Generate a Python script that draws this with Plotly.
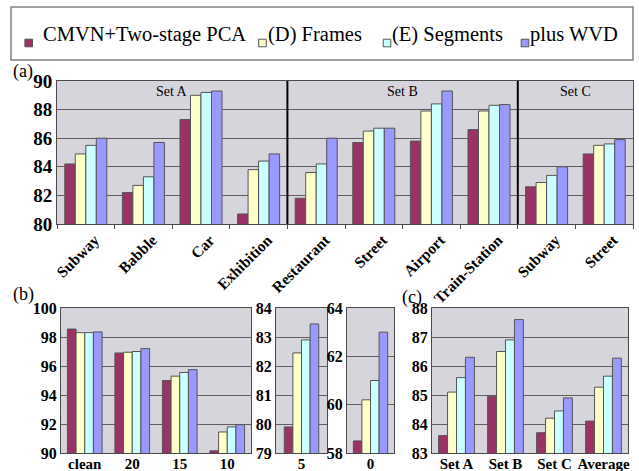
import plotly.graph_objects as go

# ---- data -------------------------------------------------------------
series_names = ["CMVN+Two-stage PCA", "(D) Frames", "(E) Segments", "plus WVD"]
series_colors = ["#993366", "#FFFFCC", "#CCFFFF", "#9999FF"]

# (a) accuracy per noise type (Set A: 4, Set B: 4, Set C: 2)
noise_types = ["Subway", "Babble", "Car", "Exhibition", "Restaurant",
               "Street", "Airport", "Train-Station", "Subway", "Street"]
cmvn_a = [84.2, 82.2, 87.3, 80.7, 81.8, 85.7, 85.8, 86.6, 82.6, 84.9]
frames_a = [84.9, 82.7, 89.0, 83.8, 83.6, 86.5, 87.9, 87.9, 82.9, 85.5]
segments_a = [85.5, 83.3, 89.2, 84.4, 84.2, 86.7, 88.4, 88.3, 83.4, 85.6]
wvd_a = [86.0, 85.7, 89.3, 84.9, 86.0, 86.7, 89.3, 88.35, 84.0, 85.9]
set_labels = ["Set A", "Set B", "Set C"]

# (b) accuracy per SNR level
snr_levels = ["clean", "20", "15", "10", "5", "0"]
cmvn_b = [98.55, 96.9, 95.0, 90.15, 79.9, 58.5]
frames_b = [98.3, 96.95, 95.3, 91.45, 82.45, 60.2]
segments_b = [98.3, 97.0, 95.55, 91.8, 82.9, 61.0]
wvd_b = [98.35, 97.2, 95.75, 91.95, 83.45, 63.0]

# (c) accuracy per test set
test_sets = ["Set A", "Set B", "Set C", "Average"]
cmvn_c = [83.6, 84.96, 83.7, 84.1]
frames_c = [85.1, 86.5, 84.2, 85.27]
segments_c = [85.6, 86.9, 84.45, 85.65]
wvd_c = [86.3, 87.6, 84.9, 86.27]

# ---- geometry helpers (pixel -> paper) --------------------------------
W, H = 639, 471


def dom_x(left, right):
    return [left / W, right / W]


def dom_y(top, bottom):
    return [1 - bottom / H, 1 - top / H]


def px(x):
    return x / W


def py(y):
    return 1 - y / H


SERIF = "Liberation Serif"
BG = "#D7D5DC"
GRID = "#5e5e5e"
LINE = "#4a4a4a"
BAR_EDGE = "#555555"

fig = go.Figure()


def add_bars(xvals, series, xa, ya):
    for name, col, vals in zip(series_names, series_colors, series):
        fig.add_trace(go.Bar(
            x=xvals, y=vals, name=name, xaxis=xa, yaxis=ya,
            marker=dict(color=col, line=dict(color=BAR_EDGE, width=1)),
            showlegend=False, hoverinfo="x+y+name",
        ))


# (a)
add_bars(list(range(len(noise_types))), [cmvn_a, frames_a, segments_a, wvd_a], "x", "y")
# (b) main, 5 dB, 0 dB
add_bars(snr_levels[:4], [s[:4] for s in (cmvn_b, frames_b, segments_b, wvd_b)], "x2", "y2")
add_bars(snr_levels[4:5], [s[4:5] for s in (cmvn_b, frames_b, segments_b, wvd_b)], "x3", "y3")
add_bars(snr_levels[5:6], [s[5:6] for s in (cmvn_b, frames_b, segments_b, wvd_b)], "x4", "y4")
# (c)
add_bars(test_sets, [cmvn_c, frames_c, segments_c, wvd_c], "x5", "y5")


def yax(domain, rng, dtick, anchor, size=15):
    return dict(
        domain=domain, range=rng, dtick=dtick, anchor=anchor, automargin=False,
        showgrid=True, gridcolor=GRID, gridwidth=1,
        showline=True, linecolor=LINE, linewidth=1, mirror=True,
        ticks="", zeroline=False, fixedrange=True,
        tickfont=dict(family=SERIF, size=size, color="black", weight="bold"),
    )


def xax_cat(domain, anchor, rng=None, size=15):
    d = dict(
        domain=domain, anchor=anchor, type="category", tickangle=0, automargin=False,
        showgrid=False, showline=True, linecolor=LINE, linewidth=1, mirror=True,
        ticks="", ticklabelstandoff=-3, zeroline=False, fixedrange=True,
        tickfont=dict(family=SERIF, size=size, color="black", weight="bold"),
    )
    if rng is not None:
        d["range"] = rng
    return d


dom_a_y = dom_y(81, 224)
dom_bc_y = dom_y(308, 453)

fig.update_layout(
    width=W, height=H,
    margin=dict(l=0, r=0, t=0, b=0, pad=0, autoexpand=False),
    paper_bgcolor="white", plot_bgcolor=BG,
    barmode="group", bargap=0.27, bargroupgap=0,
    xaxis=dict(
        domain=dom_x(57, 633), anchor="y", range=[-0.5, len(noise_types) - 0.5],
        automargin=False,
        tickmode="array", tickvals=list(range(len(noise_types))), ticktext=noise_types,
        tickangle=-45, ticks="", ticklabelshift=9, showgrid=False, zeroline=False,
        showline=True, linecolor=LINE, linewidth=1, mirror=True, fixedrange=True,
        minor=dict(tickmode="linear", tick0=0.5, dtick=1, ticks="outside",
                   ticklen=4, tickcolor=LINE, showgrid=False),
        tickfont=dict(family=SERIF, size=15.5, color="black", weight="bold"),
    ),
    yaxis=yax(dom_a_y, [80, 90], 2, "x", size=19),
    xaxis2=xax_cat(dom_x(61, 251), "y2"),
    yaxis2=yax(dom_bc_y, [90, 100], 2, "x2", size=16),
    xaxis3=xax_cat(dom_x(276, 327), "y3", rng=[-0.54, 0.54]),
    yaxis3=yax(dom_bc_y, [79, 84], 1, "x3", size=16),
    xaxis4=xax_cat(dom_x(347, 394), "y4", rng=[-0.5, 0.5]),
    yaxis4=yax(dom_bc_y, [58, 64], 2, "x4", size=16),
    xaxis5=xax_cat(dom_x(432, 628), "y5"),
    yaxis5=yax(dom_bc_y, [83, 88], 1, "x5", size=16),
)

shapes = []
annotations = []

# separators between test sets in (a)
for xb in (3.5, 7.5):
    shapes.append(dict(type="line", xref="x", yref="y domain", x0=xb, x1=xb,
                       y0=0, y1=1, line=dict(color="black", width=2), layer="above"))

for label, xc in zip(set_labels, (1.5, 5.5, 8.5)):
    annotations.append(dict(text=label, xref="x", yref="y domain", x=xc, y=0.927,
                            showarrow=False, xanchor="center", yanchor="middle",
                            font=dict(family=SERIF, size=14, color="black")))

# legend box
shapes.append(dict(type="rect", xref="paper", yref="paper",
                   x0=px(11), x1=px(633), y0=py(60), y1=py(7),
                   line=dict(color="#808080", width=1.5), fillcolor="white", layer="below"))

legend_sq_x = [28.7, 262.5, 387.0, 525.0]
legend_txt_x = [41, 266, 390, 528]
for name, col, sx, tx in zip(series_names, series_colors, legend_sq_x, legend_txt_x):
    shapes.append(dict(type="rect", xref="paper", yref="paper",
                       x0=px(sx - 3.8), x1=px(sx + 3.8), y0=py(46.8), y1=py(39.2),
                       fillcolor=col, line=dict(color="#555555", width=1)))
    annotations.append(dict(text=name, xref="paper", yref="paper", x=px(tx), y=py(35),
                            xanchor="left", yanchor="middle", showarrow=False,
                            font=dict(family=SERIF, size=20.5, color="black")))

# panel tags
for tag, xx, yy in (("(a)", 11, 72), ("(b)", 11, 294), ("(c)", 400, 297)):
    annotations.append(dict(text=tag, xref="paper", yref="paper", x=px(xx), y=py(yy),
                            xanchor="left", yanchor="middle", showarrow=False,
                            font=dict(family=SERIF, size=18, color="black")))

fig.update_layout(shapes=shapes, annotations=annotations)

fig.write_html("out.html")
